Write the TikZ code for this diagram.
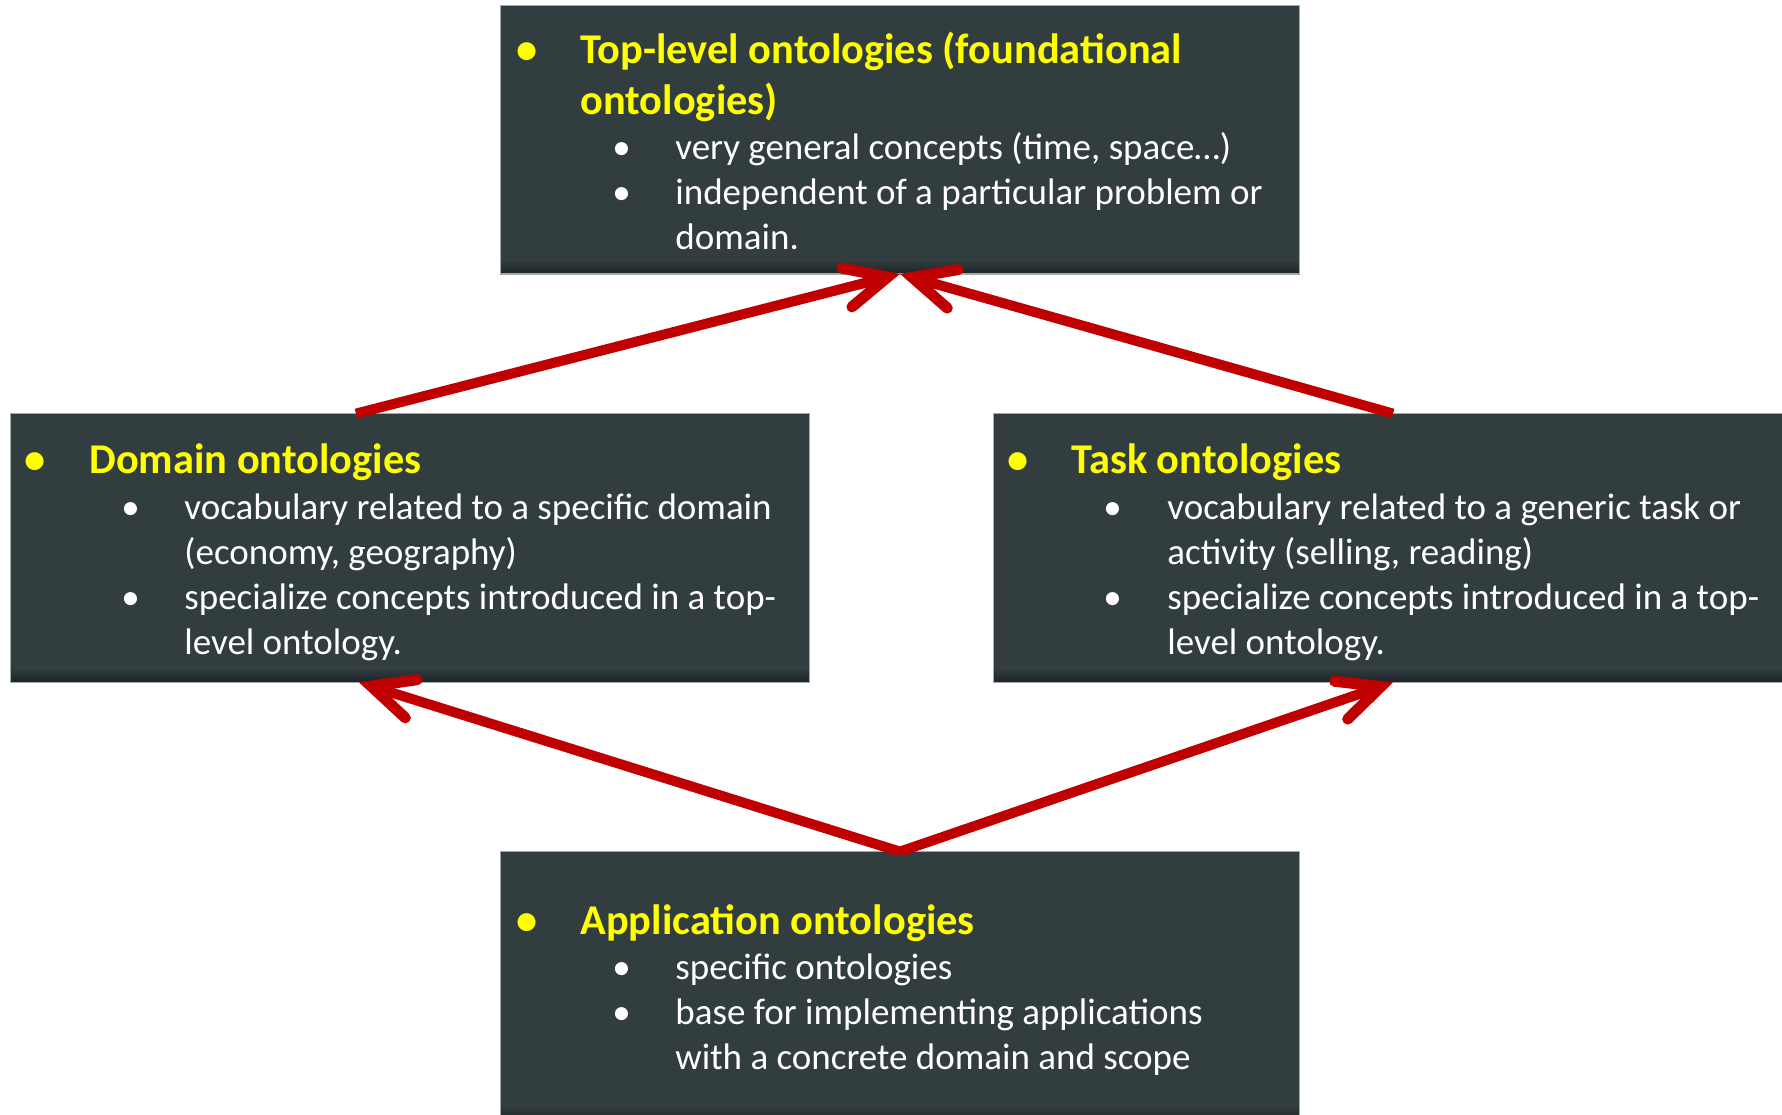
\documentclass[tikz,border=0pt]{standalone}
\usepackage{fontspec}
\setmainfont{Carlito}
\usetikzlibrary{arrows.meta}

\definecolor{slate}{HTML}{323D40}
\definecolor{slatedark}{HTML}{1C2325}
\definecolor{edgegray}{HTML}{A3AAAC}
\definecolor{headyellow}{HTML}{FFFF00}
\definecolor{arrowred}{HTML}{C00000}

% stacked lines of one bullet item, aligned on the first baseline
\newcommand{\itemrows}[1]{\begin{tabular}[t]{@{}l@{}}#1\end{tabular}}

\tikzset{
  ontobox/.style={rectangle, fill=slate, inner sep=0pt,
    minimum width=399pt, minimum height=134pt},
  headtext/.style={anchor=base west, inner sep=0pt, text=headyellow,
    font=\fontsize{21.2}{25.5}\selectfont\bfseries},
  bodytext/.style={anchor=base west, inner sep=0pt, text=white,
    font=\fontsize{18.5}{22.5}\selectfont},
  link/.style={draw=arrowred, line width=5pt,
    -{Straight Barb[length=21pt,width=20pt,line width=5.5pt,line cap=round]}}
}

\begin{document}
\begin{tikzpicture}[x=0.5pt,y=-0.5pt]
\useasboundingbox (0,0) rectangle (1782,1114);

% the four ontology boxes
\node[ontobox] (top)  at (900,139.5) {};
\node[ontobox] (dom)  at (410,548) {};
\node[ontobox] (task) at (1393,548) {};
\node[ontobox] (app)  at (900,986) {};

% darker bevel along the bottom edge and a thin light outline
\foreach \b in {top,dom,task,app}{
  \shade[top color=slate, bottom color=slatedark]
    ([yshift=7pt]\b.south west) rectangle (\b.south east);
  \draw[edgegray, line width=0.6pt] (\b.south west) rectangle (\b.north east);
}

% specialisation arrows
\draw[link] ([xshift=-27pt]dom.north) -- (top.south);
\draw[link] (task.north) -- (top.south);
\draw[link] (app.north) -- ([xshift=-25.5pt]dom.south);
\draw[link] (app.north) -- (task.south);

% top-level ontologies
\node[headtext] (topdot) at (516,63) {•};
\node[headtext] (tophead) at (580,63) {\itemrows{Top-level ontologies (foundational\\ontologies)}};
\node[bodytext] (topdot1) at (612,159) {•};
\node[bodytext] (toptext1) at (675,159) {very general concepts (time, space…)};
\node[bodytext] (topdot2) at (612,204) {•};
\node[bodytext] (toptext2) at (675,204) {\itemrows{independent of a particular problem or\\domain.}};

% domain ontologies
\node[headtext] (domdot) at (24,473) {•};
\node[headtext] (domhead) at (89,473) {Domain ontologies};
\node[bodytext] (domdot1) at (121,519) {•};
\node[bodytext] (domtext1) at (184,519) {\itemrows{vocabulary related to a specific domain\\(economy, geography)}};
\node[bodytext] (domdot2) at (121,609) {•};
\node[bodytext] (domtext2) at (184,609) {\itemrows{specialize concepts introduced in a top-\\level ontology.}};

% task ontologies
\node[headtext] (taskdot) at (1007,473) {•};
\node[headtext] (taskhead) at (1071,473) {Task ontologies};
\node[bodytext] (taskdot1) at (1103,519) {•};
\node[bodytext] (tasktext1) at (1167,519) {\itemrows{vocabulary related to a generic task or\\activity (selling, reading)}};
\node[bodytext] (taskdot2) at (1103,609) {•};
\node[bodytext] (tasktext2) at (1167,609) {\itemrows{specialize concepts introduced in a top-\\level ontology.}};

% application ontologies
\node[headtext] (appdot) at (516,934) {•};
\node[headtext] (apphead) at (580,934) {Application ontologies};
\node[bodytext] (appdot1) at (612,979) {•};
\node[bodytext] (apptext1) at (675,979) {specific ontologies};
\node[bodytext] (appdot2) at (612,1024) {•};
\node[bodytext] (apptext2) at (675,1024) {\itemrows{base for implementing applications\\with a concrete domain and scope}};
\end{tikzpicture}
\end{document}
